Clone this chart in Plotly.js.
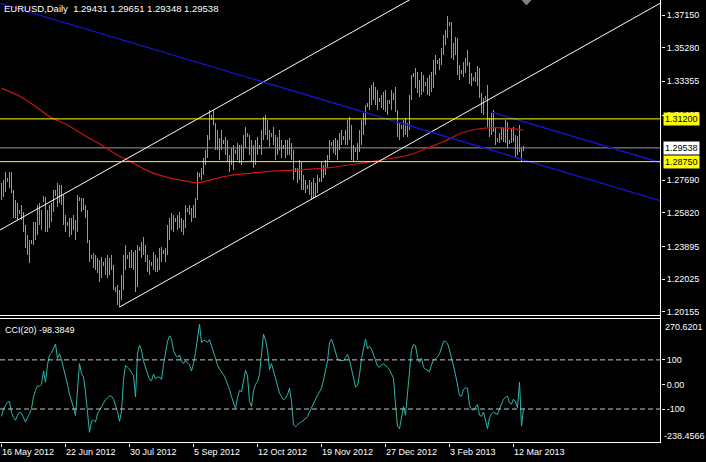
<!DOCTYPE html>
<html><head><meta charset="utf-8">
<script src="https://cdn.plot.ly/plotly-3.0.1.min.js"></script>
<style>html,body{margin:0;padding:0;background:#000;}#chart{width:706px;height:462px;}</style>
</head><body><div id="chart"></div>
<script>
// ---------- data ----------
const symbolTitle = 'EURUSD,Daily';
const lastOHLC = [1.29431, 1.29651, 1.29348, 1.29538];
const cciName = 'CCI(20)';

const dateTickIndex = [0, 32, 64, 96, 128, 160, 192, 224, 256];
const dateTicks = ['16 May 2012', '22 Jun 2012', '30 Jul 2012', '5 Sep 2012', '12 Oct 2012', '19 Nov 2012', '27 Dec 2012', '3 Feb 2013', '12 Mar 2013'];

const priceTicks = [1.37150, 1.35280, 1.33355, 1.31405, 1.27690, 1.25820, 1.23895, 1.22025, 1.20155];
const priceRange = [1.19909, 1.38009];
const cciTicks = [100, 0, -100];
const cciTickText = ['100', '0.00', '-100'];
const cciRange = [-238.4566, 270.6201];

const barHigh = [
1.2753,1.2770,1.2816,1.2781,1.2816,1.2816,1.2713,1.2655,1.2638,1.2598,
1.2627,1.2587,1.2512,1.2455,1.2426,1.2426,1.2529,1.2529,1.2627,1.2638,
1.2598,1.2678,1.2673,1.2598,1.2627,1.2638,1.2713,1.2713,1.2753,1.2741,
1.2741,1.2684,1.2570,1.2529,1.2552,1.2552,1.2570,1.2541,1.2684,1.2673,
1.2667,1.2667,1.2627,1.2598,1.2426,1.2340,1.2352,1.2340,1.2323,1.2312,
1.2329,1.2300,1.2323,1.2340,1.2323,1.2340,1.2283,1.2157,1.2168,1.2140,
1.2226,1.2340,1.2398,1.2340,1.2358,1.2369,1.2358,1.2369,1.2398,1.2386,
1.2415,1.2443,1.2398,1.2340,1.2312,1.2300,1.2358,1.2340,1.2323,1.2380,
1.2386,1.2369,1.2380,1.2512,1.2552,1.2581,1.2570,1.2552,1.2570,1.2587,
1.2552,1.2541,1.2627,1.2610,1.2627,1.2610,1.2627,1.2667,1.2816,1.2810,
1.2839,1.2896,1.2942,1.3028,1.3171,1.3142,1.3171,1.3096,1.3056,1.3011,
1.3056,1.2999,1.3016,1.2999,1.2913,1.2953,1.2970,1.2942,1.2982,1.2970,
1.2970,1.3028,1.3073,1.3039,1.3028,1.2999,1.2970,1.2999,1.3016,1.2970,
1.3056,1.3131,1.3142,1.3114,1.3056,1.3039,1.3073,1.3028,1.3016,1.3056,
1.2999,1.2970,1.2999,1.2999,1.3011,1.2982,1.2942,1.2839,1.2839,1.2885,
1.2873,1.2799,1.2770,1.2741,1.2770,1.2759,1.2781,1.2753,1.2799,1.2781,
1.2873,1.2856,1.2885,1.2913,1.2999,1.2988,1.2999,1.3011,1.2999,1.3039,
1.3056,1.3022,1.3056,1.3114,1.3131,1.3085,1.2970,1.2953,1.2982,1.3056,
1.3114,1.3154,1.3200,1.3211,1.3297,1.3314,1.3331,1.3303,1.3285,1.3240,
1.3257,1.3274,1.3285,1.3228,1.3228,1.3285,1.3268,1.3303,1.3171,1.3102,
1.3085,1.3114,1.3125,1.3096,1.3257,1.3371,1.3383,1.3411,1.3389,1.3343,
1.3389,1.3371,1.3331,1.3354,1.3371,1.3389,1.3457,1.3486,1.3457,1.3469,
1.3526,1.3601,1.3629,1.3709,1.3675,1.3675,1.3555,1.3589,1.3583,1.3429,
1.3400,1.3446,1.3469,1.3515,1.3446,1.3383,1.3360,1.3389,1.3423,1.3411,
1.3268,1.3240,1.3251,1.3314,1.3125,1.3154,1.3171,1.3068,1.3011,1.3039,
1.3073,1.3068,1.3114,1.3102,1.2999,1.3068,1.3073,1.3028,1.3022,1.3085,
1.2953,1.29651
];
const barLow = [
1.2655,1.2673,1.2701,1.2759,1.2724,1.2695,1.2552,1.2552,1.2541,1.2575,
1.2541,1.2472,1.2380,1.2340,1.2295,1.2403,1.2398,1.2426,1.2455,1.2512,
1.2484,1.2644,1.2472,1.2472,1.2495,1.2529,1.2587,1.2678,1.2615,1.2638,
1.2627,1.2512,1.2472,1.2507,1.2443,1.2455,1.2484,1.2426,1.2472,1.2650,
1.2587,1.2598,1.2552,1.2409,1.2300,1.2317,1.2266,1.2254,1.2237,1.2186,
1.2209,1.2277,1.2226,1.2209,1.2226,1.2254,1.2140,1.2128,1.2054,1.2042,
1.2083,1.2140,1.2254,1.2317,1.2266,1.2266,1.2254,1.2128,1.2157,1.2363,
1.2323,1.2340,1.2300,1.2243,1.2226,1.2277,1.2254,1.2243,1.2243,1.2254,
1.2300,1.2346,1.2300,1.2340,1.2426,1.2484,1.2472,1.2529,1.2484,1.2495,
1.2472,1.2455,1.2495,1.2587,1.2570,1.2529,1.2552,1.2552,1.2655,1.2787,
1.2770,1.2799,1.2856,1.2896,1.2999,1.3114,1.3085,1.2942,1.2942,1.2885,
1.2942,1.2976,1.2913,1.2873,1.2816,1.2856,1.2827,1.2919,1.2885,1.2867,
1.2856,1.2885,1.2953,1.3016,1.2913,1.2873,1.2839,1.2856,1.2913,1.2948,
1.2913,1.2999,1.3028,1.2999,1.2959,1.3016,1.2970,1.2885,1.2913,1.2942,
1.2896,1.2948,1.2896,1.2913,1.2913,1.2885,1.2770,1.2816,1.2753,1.2770,
1.2713,1.2713,1.2695,1.2718,1.2684,1.2655,1.2667,1.2673,1.2695,1.2759,
1.2759,1.2781,1.2799,1.2839,1.2885,1.2965,1.2925,1.2913,1.2885,1.2942,
1.2970,1.2999,1.2970,1.2970,1.2999,1.2885,1.2873,1.2930,1.2885,1.2930,
1.2970,1.3028,1.3085,1.3188,1.3171,1.3200,1.3228,1.3200,1.3171,1.3217,
1.3182,1.3171,1.3159,1.3142,1.3205,1.3171,1.3228,1.3159,1.3016,1.2999,
1.3062,1.3016,1.3028,1.3016,1.3056,1.3228,1.3360,1.3297,1.3268,1.3245,
1.3257,1.3274,1.3308,1.3257,1.3251,1.3274,1.3297,1.3371,1.3434,1.3400,
1.3429,1.3486,1.3543,1.3583,1.3652,1.3469,1.3457,1.3486,1.3371,1.3343,
1.3377,1.3360,1.3383,1.3423,1.3320,1.3308,1.3337,1.3331,1.3308,1.3240,
1.3154,1.3142,1.3228,1.3073,1.3016,1.3028,1.3045,1.2970,1.2988,1.2982,
1.2999,1.2988,1.2982,1.2953,1.2976,1.2982,1.2988,1.2896,1.2913,1.2930,
1.2873,1.29348
];
const cciValues = [
-130,-100,-85,-72,-69,-115,-135,-146,-125,-113,
-118,-135,-153,-135,-120,-98,-50,-25,-5,-8,
0,55,9,80,120,128,150,165,105,125,
100,70,36,0,-40,-65,-95,-126,-5,85,
45,30,-31,-120,-195,-150,-145,-153,-120,-105,
-90,-75,-62,-55,-47,-48,-60,-85,-110,-150,
-110,20,77,70,62,48,38,-51,125,160,
140,95,70,48,20,15,42,23,30,30,
20,80,125,175,198,185,138,120,110,120,
95,85,97,90,80,55,85,130,180,245,
170,180,178,172,183,155,130,105,80,62,
52,40,23,3,-20,-50,-75,-98,-55,-25,
-30,20,57,35,-70,-90,-25,0,12,40,
110,205,180,140,60,85,55,25,-8,-35,
-50,-63,-55,-42,-15,-70,-165,-172,-165,-156,
-152,-147,-140,-130,-112,-95,-75,-58,-43,-30,
-15,18,55,95,170,185,160,130,103,98,
97,97,110,122,100,60,15,-10,-5,40,
105,150,185,145,155,145,120,95,75,70,
80,84,78,70,60,45,25,-80,-170,-180,
-130,-90,-125,-40,40,140,162,158,110,90,
108,70,62,55,52,80,100,105,112,125,
150,175,176,168,140,100,75,40,-8,-45,
-48,-20,-14,-15,-85,-103,-104,-90,-82,-125,
-130,-112,-150,-180,-135,-120,-113,-118,-122,-100,
-78,-60,-52,-48,-75,-80,-60,-70,-95,10,
-170,-98.3849
];
// moving average read at sparse bars
const maIndex = [0, 8, 16, 24, 33, 41, 50, 58, 66, 74, 83, 91, 98, 103, 108, 116, 124, 132, 146, 163, 180, 196, 204, 213, 221, 230, 238, 246, 254, 261];
const maValue = [1.3295, 1.3257, 1.3200, 1.3133, 1.3085, 1.3028, 1.2970, 1.2913, 1.2866, 1.2818, 1.2785, 1.2766, 1.2754, 1.2766, 1.2780, 1.2799, 1.2808, 1.2818, 1.2827, 1.2839, 1.2867, 1.2896, 1.2913, 1.2953, 1.2989, 1.3039, 1.3062, 1.3070, 1.3066, 1.3056];
// drawn objects (anchors: bar index, price)
const whiteChannelIdx = [59, 155];
const whiteChannelPrice = [1.2042, 1.2660];
const whiteUpperIdx = 106, whiteUpperPrice = 1.3171;
const blueLineIdx = [0, 260];
const blueLinePrice = [1.3779, 1.2889];
const blueUpperIdx = 245, blueUpperPrice = 1.3159;
const yellowLevels = [1.31200, 1.28750];
const bidPrice = lastOHLC[3];

// ---------- build ----------
const xRange = [-0.75, 329.75];
const FONT = 'Liberation Sans, Arial, sans-serif';
const idx = barHigh.map((_, i) => i);
const span = barHigh.map((h, i) => h - barLow[i]);

function lineAt(i0, p0, slope, i) { return p0 + slope * (i - i0); }
const wSlope = (whiteChannelPrice[1] - whiteChannelPrice[0]) / (whiteChannelIdx[1] - whiteChannelIdx[0]);
const bSlope = (blueLinePrice[1] - blueLinePrice[0]) / (blueLineIdx[1] - blueLineIdx[0]);

const traces = [
  {type:'bar', x:idx, y:span, base:barLow, width:0.5, xaxis:'x', yaxis:'y', marker:{color:'#44d82e', line:{width:0}}, hoverinfo:'skip'},
  {type:'scatter', mode:'lines', x:maIndex, y:maValue, xaxis:'x', yaxis:'y', line:{color:'#c81414', width:1.2, shape:'spline', smoothing:0.8}, hoverinfo:'skip'},
  {type:'scatter', mode:'lines', x:[whiteChannelIdx[0], xRange[1]], y:[whiteChannelPrice[0], lineAt(whiteChannelIdx[0], whiteChannelPrice[0], wSlope, xRange[1])], xaxis:'x', yaxis:'y', line:{color:'#ffffff', width:1}, hoverinfo:'skip'},
  {type:'scatter', mode:'lines', x:[xRange[0], xRange[1]], y:[lineAt(whiteUpperIdx, whiteUpperPrice, wSlope, xRange[0]), lineAt(whiteUpperIdx, whiteUpperPrice, wSlope, xRange[1])], xaxis:'x', yaxis:'y', line:{color:'#ffffff', width:1}, hoverinfo:'skip'},
  {type:'scatter', mode:'lines', x:[xRange[0], xRange[1]], y:[lineAt(blueLineIdx[0], blueLinePrice[0], bSlope, xRange[0]), lineAt(blueLineIdx[0], blueLinePrice[0], bSlope, xRange[1])], xaxis:'x', yaxis:'y', line:{color:'#1414c8', width:1.4}, hoverinfo:'skip'},
  {type:'scatter', mode:'lines', x:[blueUpperIdx, xRange[1]], y:[blueUpperPrice, lineAt(blueUpperIdx, blueUpperPrice, bSlope, xRange[1])], xaxis:'x', yaxis:'y', line:{color:'#1414c8', width:1.4}, hoverinfo:'skip'},
  {type:'scatter', mode:'lines', x:idx, y:cciValues, xaxis:'x', yaxis:'y2', line:{color:'#2fb5aa', width:1}, hoverinfo:'skip'}
];

const W = 706, H = 462, mR = 45, mB = 19;
const plotW = W - mR, plotH = H - mB;
const mainDomain = [(plotH - 316) / plotH, 1];
const cciDomain = [0, (plotH - 318) / plotH];
const tickFont = {family: FONT, size: 9, color: '#ffffff'};
const py = px => (plotH - px) / plotH;   // paper y from pixel row (frame lines)
const pxX = px => px / plotW;

const shapes = [
  {type:'line', xref:'paper', yref:'paper', x0:pxX(plotW - 0.5), x1:pxX(plotW - 0.5), y0:0, y1:1, line:{color:'#ffffff', width:1}},
  {type:'line', xref:'paper', yref:'paper', x0:0, x1:pxX(plotW - 0.5), y0:py(plotH - 0.5), y1:py(plotH - 0.5), line:{color:'#ffffff', width:1}},
  {type:'line', xref:'paper', yref:'paper', x0:0, x1:pxX(plotW - 0.5), y0:py(315.5), y1:py(315.5), line:{color:'#ffffff', width:1}},
  {type:'line', xref:'paper', yref:'paper', x0:0, x1:pxX(plotW - 0.5), y0:py(318.5), y1:py(318.5), line:{color:'#ffffff', width:1}},
  {type:'line', xref:'paper', yref:'y', x0:0, x1:1, y0:bidPrice, y1:bidPrice, line:{color:'#9a9a9a', width:1}, layer:'below'},
  {type:'line', xref:'paper', yref:'y2', x0:0, x1:1, y0:cciTicks[0], y1:cciTicks[0], line:{color:'#c8c8c8', width:1, dash:'5px,3px'}},
  {type:'line', xref:'paper', yref:'y2', x0:0, x1:1, y0:cciTicks[2], y1:cciTicks[2], line:{color:'#c8c8c8', width:1, dash:'5px,3px'}},
  {type:'path', xref:'paper', yref:'paper', path:'M ' + pxX(522) + ' 1 L ' + pxX(531) + ' 1 L ' + pxX(526.5) + ' ' + py(5) + ' Z', fillcolor:'#808080', line:{color:'#808080', width:1}}
];
yellowLevels.forEach(v => shapes.push({type:'line', xref:'paper', yref:'y', x0:0, x1:1, y0:v, y1:v, line:{color:'#ffff00', width:1}}));

const annotations = [
  {xref:'paper', yref:'paper', x:0, y:1, xanchor:'left', yanchor:'top', xshift:2, yshift:-1, showarrow:false,
   text: symbolTitle + '\u00a0\u00a0' + lastOHLC.map(v => v.toFixed(5)).join(' '), font:{family:FONT, size:9.5, color:'#ffffff'}},
  {xref:'paper', yref:'paper', x:0, y:cciDomain[1], xanchor:'left', yanchor:'top', xshift:3, yshift:-5, showarrow:false,
   text: cciName + ' ' + cciValues[cciValues.length - 1].toFixed(4), font:{family:FONT, size:9, color:'#ffffff'}},
  {xref:'paper', yref:'paper', x:1, y:cciDomain[1], xanchor:'left', yanchor:'top', xshift:2, yshift:-2, showarrow:false,
   text: cciRange[1].toFixed(4), font:{family:FONT, size:9, color:'#ffffff'}},
  {xref:'paper', yref:'paper', x:1, y:0, xanchor:'left', yanchor:'bottom', xshift:1, yshift:0, showarrow:false,
   text: cciRange[0].toFixed(4), font:{family:FONT, size:9, color:'#ffffff'}}
];
yellowLevels.forEach(v => annotations.push({xref:'paper', yref:'y', x:1, y:v, xanchor:'left', yanchor:'middle', xshift:2, showarrow:false,
  text: v.toFixed(5), bgcolor:'#ffff00', borderpad:1, font:{family:FONT, size:9, color:'#000000'}}));
annotations.push({xref:'paper', yref:'y', x:1, y:bidPrice, xanchor:'left', yanchor:'middle', xshift:2, showarrow:false,
  text: bidPrice.toFixed(5), bgcolor:'#ffffff', borderpad:1, font:{family:FONT, size:9, color:'#000000'}});

const layout = {
  width: W, height: H,
  margin: {l:0, r:mR, t:0, b:mB, pad:0},
  paper_bgcolor:'#000000', plot_bgcolor:'#000000',
  showlegend:false, bargap:0,
  xaxis: {range:xRange, anchor:'y2', showgrid:false, zeroline:false, showline:false,
    tickmode:'array', tickvals:dateTickIndex, ticktext:dateTicks, ticks:'outside', ticklen:3, tickcolor:'#ffffff',
    tickfont:tickFont, ticklabelposition:'outside right', fixedrange:true},
  yaxis: {domain:mainDomain, range:priceRange, side:'right', anchor:'x', showgrid:false, zeroline:false, showline:false,
    tickmode:'array', tickvals:priceTicks, ticktext:priceTicks.map(v => v.toFixed(5)), ticks:'outside', ticklen:3, tickcolor:'#ffffff',
    tickfont:tickFont, fixedrange:true},
  yaxis2: {domain:cciDomain, range:cciRange, side:'right', anchor:'x', showgrid:false, zeroline:false, showline:false,
    tickmode:'array', tickvals:cciTicks, ticktext:cciTickText, ticks:'outside', ticklen:3, tickcolor:'#ffffff',
    tickfont:tickFont, fixedrange:true},
  shapes: shapes,
  annotations: annotations
};

Plotly.newPlot('chart', traces, layout, {staticPlot:true, displayModeBar:false});
</script>
</body></html>
